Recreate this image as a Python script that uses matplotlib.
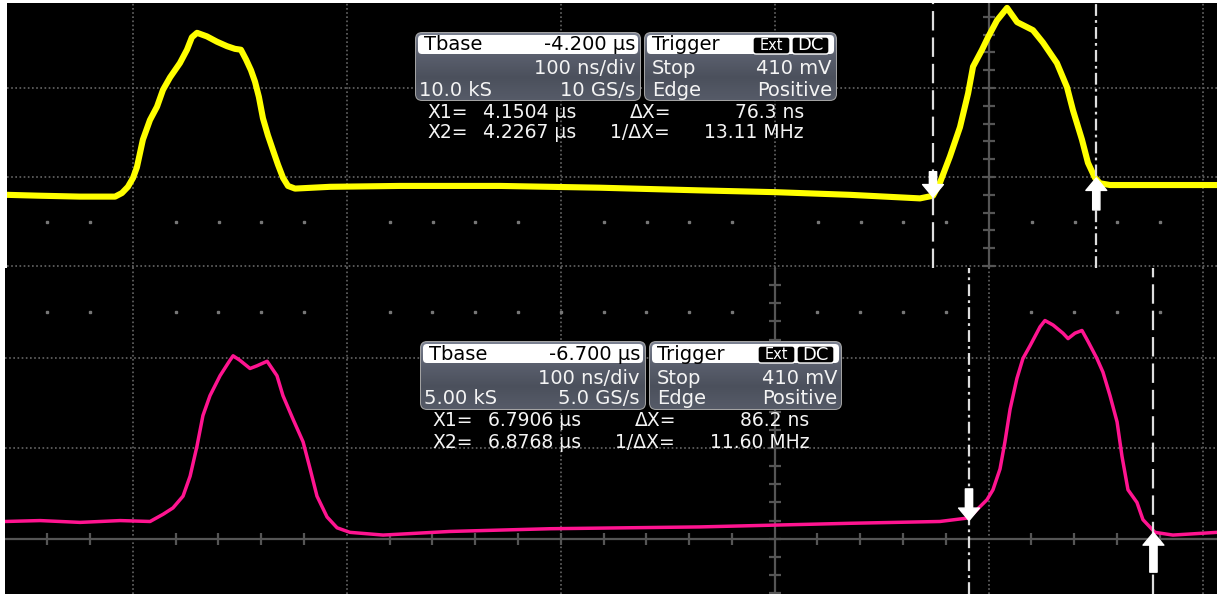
import numpy as np
import matplotlib
matplotlib.use("Agg")
import matplotlib.pyplot as plt
from matplotlib.patches import FancyBboxPatch
from matplotlib.colors import LinearSegmentedColormap

plt.rcParams["lines.scale_dashes"] = False
plt.rcParams["font.family"] = ["DejaVu Sans"]

# channel 1 (yellow), time in ns relative to cursor X1, level in divisions
ch1_t = [-432.7, -417.3, -398.6, -382.2, -379.0, -376.2, -373.8, -372.0, -369.2,
         -365.9, -362.6, -359.8, -356.5, -351.9, -348.6, -346.3, -343.9, -339.3,
         -334.6, -329.9, -326.2, -323.4, -321.0, -318.7, -316.8, -315.0, -313.1,
         -310.8, -308.4, -306.1, -303.7, -301.4, -298.1, -281.8, -249.1, -202.3,
         -155.6, -108.9, -73.8, -38.8, -6.1, 0.0, 3.3, 7.9, 12.6, 16.4, 18.7,
         22.9, 25.7, 29.9, 34.6, 39.3, 46.7, 51.4, 57.9, 62.6, 65.4, 69.6, 72.4,
         75.7, 78.0, 82.7, 101.4, 132.7]
ch1_v = [0.80, 0.79, 0.78, 0.78, 0.82, 0.89, 0.99, 1.11, 1.42, 1.64, 1.79, 1.98,
         2.12, 2.28, 2.43, 2.57, 2.62, 2.58, 2.52, 2.47, 2.44, 2.43, 2.32, 2.20,
         2.07, 1.90, 1.66, 1.47, 1.30, 1.14, 0.99, 0.90, 0.87, 0.89, 0.90, 0.90,
         0.88, 0.85, 0.83, 0.80, 0.76, 0.79, 0.94, 1.23, 1.56, 1.94, 2.24, 2.43,
         2.57, 2.76, 2.90, 2.74, 2.65, 2.51, 2.28, 2.01, 1.75, 1.42, 1.16, 0.99,
         0.93, 0.91, 0.91, 0.91]

# channel 2 (magenta)
ch2_t = [-450.5, -434.1, -415.4, -396.7, -382.7, -376.6, -372.0, -367.3, -364.0,
         -360.8, -358.0, -354.7, -350.0, -345.4, -343.9, -340.7, -336.0, -332.7,
         -328.0, -323.4, -320.6, -315.9, -311.2, -307.9, -304.7, -300.0, -295.3,
         -289.3, -273.8, -242.5, -195.8, -125.7, -55.6, -13.6, 0.0, 3.7, 8.4,
         11.2, 14.5, 16.8, 19.2, 22.4, 25.2, 28.5, 33.2, 35.5, 39.3, 43.9, 46.3,
         49.5, 52.8, 55.6, 59.8, 62.6, 65.9, 69.2, 71.5, 74.3, 78.5, 81.3, 86.9,
         95.3, 115.9]
ch2_v = [0.19, 0.20, 0.18, 0.20, 0.19, 0.27, 0.34, 0.47, 0.69, 1.02, 1.36, 1.58,
         1.80, 1.97, 2.02, 1.97, 1.88, 1.91, 1.96, 1.80, 1.58, 1.32, 1.07, 0.77,
         0.47, 0.24, 0.12, 0.07, 0.04, 0.08, 0.11, 0.13, 0.17, 0.19, 0.23, 0.32,
         0.43, 0.54, 0.77, 1.07, 1.43, 1.77, 1.99, 2.13, 2.34, 2.41, 2.36, 2.27,
         2.21, 2.27, 2.30, 2.18, 1.99, 1.84, 1.58, 1.29, 0.91, 0.54, 0.40, 0.21,
         0.07, 0.04, 0.07]

# scope readouts
ch1_readout = ["-4.200 µs", "100 ns/div", "10.0 kS", "10 GS/s", "410 mV", "Positive",
               "4.1504 µs", "4.2267 µs", "76.3 ns", "13.11 MHz"]
ch2_readout = ["-6.700 µs", "100 ns/div", "5.00 kS", "5.0 GS/s", "410 mV", "Positive",
               "6.7906 µs", "6.8768 µs", "86.2 ns", "11.60 MHz"]
ch1_dx = 76.3
ch2_dx = 86.2

GRID = "#5e5e5e"
AXIS = "#555555"
CURSOR = "#dedede"


def graticule(ax, grid_t, grid_v, axis_t, axis_v, dot_v, t0, t1):
    for t in grid_t:
        ax.axvline(t, color=GRID, lw=1.3, ls=(0, (1.2, 1.8)), zorder=1)
    for v in grid_v:
        ax.axhline(v, color=GRID, lw=1.3, ls=(0, (1.2, 1.8)), zorder=1)
    ax.axvline(axis_t, color=AXIS, lw=1.6, zorder=1)
    vt = np.arange(-5, 16) * 0.2
    ax.plot(np.full(len(vt), axis_t), vt, ls="none", marker="_", ms=9, mew=1.6,
            color=AXIS, zorder=1)
    ticks = axis_t + 20 * np.arange(-30, 10)
    ticks = ticks[(ticks > t0) & (ticks < t1)]
    minor = [t for t in ticks if abs(((t - axis_t) / 20) % 5) > 0.1]
    if axis_v is not None:
        ax.axhline(axis_v, color=AXIS, lw=1.6, zorder=1)
        ax.plot(minor, np.full(len(minor), axis_v), ls="none", marker="|", ms=9,
                mew=1.6, color=AXIS, zorder=1)
    ax.plot(minor, np.full(len(minor), dot_v), ls="none", marker="s", ms=1.6,
            color="#777777", zorder=1)


def cursor(ax, t, style):
    ax.axvline(t, color=CURSOR, lw=1.6, ls=style, zorder=3)


def arrow(ax, t, tip, tail):
    ax.annotate("", xy=(t, tip), xytext=(t, tail),
                arrowprops=dict(arrowstyle="simple,head_width=1.0,head_length=0.6,tail_width=0.35",
                                color="white", mutation_scale=15, shrinkA=0, shrinkB=0),
                zorder=5)


fig = plt.figure(figsize=(12.17, 5.94), dpi=100, facecolor="white")
W, H = 1217, 594

long_dash = (0, (14, 5))
dash_dot = (0, (8.5, 3, 2, 3))

# top panel
ax1 = fig.add_axes([7 / W, (H - 268) / H, 1210 / W, 265 / H])
ax1.set_facecolor("black")
ax1.set_xlim(-432.7, 132.7)
ax1.set_ylim(-0.022, 2.955)
graticule(ax1, [-373.8, -273.8, -173.8, -73.8, 126.2], [0, 1, 2], 26.2, None, 0.5,
          -432.7, 132.7)
ax1.plot(ch1_t, ch1_v, color="#ffff00", lw=4.4, solid_joinstyle="round", zorder=2)
cursor(ax1, 0, long_dash)
cursor(ax1, ch1_dx, dash_dot)
arrow(ax1, 0, 0.775, 1.06)
arrow(ax1, ch1_dx, 0.99, 0.63)

# bottom panel
ax2 = fig.add_axes([5 / W, 0, 1212 / W, 326 / H])
ax2.set_facecolor("black")
ax2.set_xlim(-450.5, 115.9)
ax2.set_ylim(-0.611, 2.99)
graticule(ax2, [-390.8, -290.8, -190.8, 9.2, 109.2], [1, 2], -90.8, 0, 2.5,
          -450.5, 115.9)
ax2.plot(ch2_t, ch2_v, color="#ff1490", lw=2.5, zorder=2)
cursor(ax2, 0, dash_dot)
cursor(ax2, ch2_dx, long_dash)
arrow(ax2, 0, 0.20, 0.55)
arrow(ax2, ch2_dx, 0.067, -0.37)

for ax in (ax1, ax2):
    ax.set_xticks([])
    ax.set_yticks([])
    for s in ax.spines.values():
        s.set_visible(False)

# overlay for the readout boxes, in pixel units
ov = fig.add_axes([0, 0, 1, 1])
ov.set_xlim(0, W)
ov.set_ylim(H, 0)
ov.axis("off")
ov.patch.set_alpha(0)

body_cmap = LinearSegmentedColormap.from_list("body", ["#7b8191", "#5a5f6d", "#4b505c", "#565b68"])
grad = np.linspace(0, 1, 64).reshape(-1, 1)


def panel_box(x, y, w, h):
    p = FancyBboxPatch((x, y), w, h, boxstyle="round,pad=0,rounding_size=6",
                       fc="#555a66", ec="#a8a8a8", lw=1.4, zorder=6)
    ov.add_patch(p)
    im = ov.imshow(grad, extent=(x, x + w, y + h, y), cmap=body_cmap, aspect="auto", zorder=6.5)
    im.set_clip_path(p)
    ov.add_patch(FancyBboxPatch((x + 2, y + 2), w - 4, 19, boxstyle="round,pad=0,rounding_size=4",
                                fc="white", ec="none", zorder=7))


def readout(x0, y0, r):
    fs = 14
    wt = "#f4f4f4"
    panel_box(x0, y0, 224, 67)
    panel_box(x0 + 229, y0, 191, 67)
    ov.text(x0 + 8, y0 + 12, "Tbase", fontsize=fs, color="black", va="center", ha="left", zorder=8)
    ov.text(x0 + 219, y0 + 12, r[0], fontsize=fs, color="black", va="center", ha="right", zorder=8)
    ov.text(x0 + 219, y0 + 36, r[1], fontsize=fs, color=wt, va="center", ha="right", zorder=8)
    ov.text(x0 + 3, y0 + 57, r[2], fontsize=fs, color=wt, va="center", ha="left", zorder=8)
    ov.text(x0 + 219, y0 + 57, r[3], fontsize=fs, color=wt, va="center", ha="right", zorder=8)
    ov.text(x0 + 236, y0 + 12, "Trigger", fontsize=fs, color="black", va="center", ha="left", zorder=8)
    for bx, bw, lab, f in [(x0 + 337, 37, "Ext", 10.5), (x0 + 376, 37, "DC", 13)]:
        ov.add_patch(FancyBboxPatch((bx, y0 + 4), bw, 17, boxstyle="round,pad=0,rounding_size=3",
                                    fc="black", ec="white", lw=1, zorder=8))
        ov.text(bx + bw / 2, y0 + 12.5, lab, fontsize=f, color="white", va="center",
                ha="center", zorder=9)
    ov.text(x0 + 236, y0 + 36, "Stop", fontsize=fs, color=wt, va="center", ha="left", zorder=8)
    ov.text(x0 + 416, y0 + 36, r[4], fontsize=fs, color=wt, va="center", ha="right", zorder=8)
    ov.text(x0 + 236, y0 + 57, "Edge", fontsize=fs, color=wt, va="center", ha="left", zorder=8)
    ov.text(x0 + 416, y0 + 57, r[5], fontsize=fs, color=wt, va="center", ha="right", zorder=8)
    fs2 = 13.5
    ov.text(x0 + 11, y0 + 79, "X1=", fontsize=fs2, color=wt, va="center", zorder=8)
    ov.text(x0 + 67, y0 + 79, r[6], fontsize=fs2, color=wt, va="center", zorder=8)
    ov.text(x0 + 214, y0 + 79, "ΔX=", fontsize=fs2, color=wt, va="center", zorder=8)
    ov.text(x0 + 388, y0 + 79, r[8], fontsize=fs2, color=wt, va="center", ha="right", zorder=8)
    ov.text(x0 + 11, y0 + 100, "X2=", fontsize=fs2, color=wt, va="center", zorder=8)
    ov.text(x0 + 67, y0 + 100, r[7], fontsize=fs2, color=wt, va="center", zorder=8)
    ov.text(x0 + 194, y0 + 100, "1/ΔX=", fontsize=fs2, color=wt, va="center", zorder=8)
    ov.text(x0 + 388, y0 + 100, r[9], fontsize=fs2, color=wt, va="center", ha="right", zorder=8)


readout(416, 33, ch1_readout)
readout(421, 342, ch2_readout)

fig.savefig("out.png", dpi=100, facecolor="white")
